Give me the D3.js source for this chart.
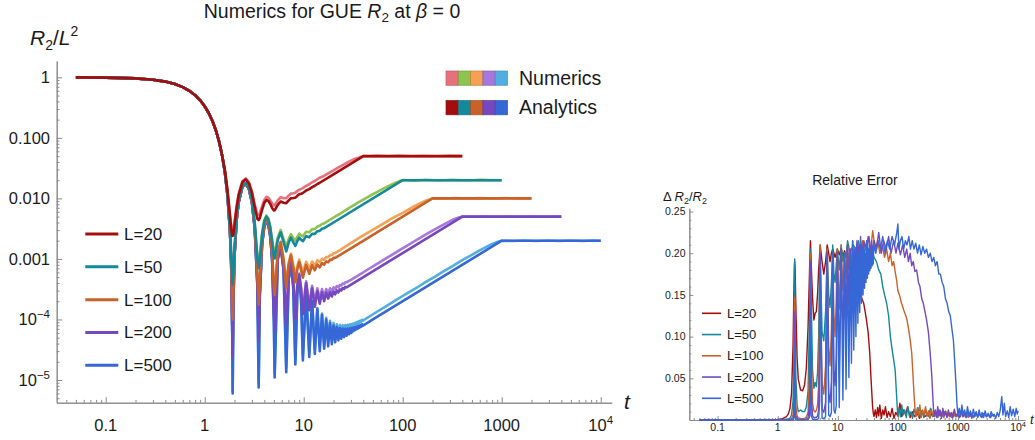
<!DOCTYPE html>
<html><head><meta charset="utf-8">
<script src="https://cdn.jsdelivr.net/npm/d3@7"></script>
<style>
body{margin:0;background:#fff}
text{font-family:"Liberation Sans",Arial,Helvetica,sans-serif;fill:#1a1a1a}
</style></head>
<body><svg id="c" width="1035" height="440"></svg>
<script>
// ---------------- DATA ----------------
const seriesNames = ["L=20","L=50","L=100","L=200","L=500"];
const analyticColors = ["#a50d0d","#13899b","#c9622a","#7548bf","#3567d6"];
const numericColors  = ["#e8707b","#8ec350","#f5a052","#a877dd","#52aee2"];
const legendKinds = ["Numerics","Analytics"];

const xTicksMain = [0.1,1,10,100,1000,10000];
const xTickLabelsMain = ["0.1","1","10","100","1000","10^4"];
const yTicksMain = [1,0.1,0.01,0.001,1e-4,1e-5];
const yTickLabelsMain = ["1","0.100","0.010","0.001","10^-4","10^-5"];
const xTicksErr = [0.1,1,10,100,1000,10000];
const xTickLabelsErr = ["0.1","1","10","100","1000","10^4"];
const yTicksErr = [0.05,0.10,0.15,0.20,0.25];
const yTickLabelsErr = ["0.05","0.10","0.15","0.20","0.25"];

// shared early part (all L coincide) of R2/L^2
const headT = [0.05,0.1,0.2,0.3,0.4,0.5,0.6,0.7,0.8,0.9,1.0,1.1,1.2,1.3,1.4,1.5];
const headV = [0.9975,0.990,0.9607,0.9133,0.8503,0.7746,0.6897,0.5994,0.5075,0.4175,0.3326,0.2555,0.1879,0.1312,0.0856,0.0511];

// t grid of the oscillating part
const oscT = [1.6,1.7,1.8,1.85,1.9,1.916,1.95,2.0,2.1,2.2,2.4,2.6,2.8,3.0,3.2,3.4,3.508,3.6,3.8,4.0,4.2,4.4,4.6,4.8,5.0,5.087,
5.47,5.85,6.26,6.662,7.05,7.43,7.83,8.235,8.62,9.01,9.41,9.808,
10.58,11.38,12.16,12.952,13.73,14.523,15.30,16.095,16.87,17.666,18.44,19.237,20.02,20.809,21.59,22.38,23.17,23.951,24.74,25.522,26.31,27.093,27.88,28.664,29.45,30.235,31.02,31.806,32.59,33.377,34.16,34.948,35.73,36.52,37.30,38.09,38.88,39.66];

// Analytics (values on oscT, then tail points)
const ana20 = [0.02867,0.01324,0.005065,0.00316,0.00242,0.0024,0.00263,0.00359,0.00698,0.01125,0.01847,0.02067,0.01768,0.01226,0.00722,0.00462,0.00439,0.00473,0.0065,0.00844,0.00941,0.0091,0.00807,0.00694,0.00633,0.00636,
0.00781,0.0089,0.00848,0.00833,0.00926,0.01007,0.01012,0.01029,0.01103,0.0117,0.01195,0.01226,
0.01349,0.01423,0.01538,0.01619,0.01728,0.01815];
const anaTail20 = [[20,0.025],[40,0.05],[400,0.05]];
const ana50 = [0.02699,0.01145,0.003175,0.001216,4.25e-4,3.8e-4,5.85e-4,0.001489,0.00478,0.00894,0.01595,0.01794,0.01474,0.00911,0.00386,0.001048,7.0e-4,9.47e-4,0.002515,0.00424,0.005,0.00448,0.00324,0.0019,0.001076,0.001017,
0.00206,0.00276,0.0019,0.001332,0.00186,0.00226,0.0019,0.001647,0.00197,0.00224,0.00207,0.00196,
0.00238,0.002276,0.00261,0.00259,0.00287,0.002905,0.00315,0.00322];
const anaTail50 = [[20,0.004],[100,0.02],[1000,0.02]];
const ana100 = [0.02675,0.0112,0.002905,9.39e-4,1.4e-4,1.0e-4,2.92e-4,0.00119,0.00446,0.00861,0.01559,0.01755,0.01432,0.00866,0.00338,5.38e-4,1.75e-4,4.07e-4,0.001945,0.00364,0.00437,0.00382,0.00255,0.00118,3.26e-4,2.54e-4,
0.00124,0.00188,9.6e-4,3.33e-4,8.0e-4,0.00115,7.2e-4,4.12e-4,6.8e-4,8.87e-4,6.6e-4,4.9e-4,
7.97e-4,5.69e-4,7.84e-4,6.48e-4,8.09e-4,7.26e-4,8.54e-4,8.05e-4,9.1e-4,8.83e-4,9.73e-4,9.62e-4,0.001041,0.00104];
const anaTail100 = [[30,0.0015],[200,0.01],[2000,0.01]];
const ana200 = [0.02669,0.01113,0.00284,8.69e-4,6.9e-5,2.4e-5,2.19e-4,0.001114,0.00438,0.00853,0.0155,0.01746,0.01422,0.00854,0.00326,4.1e-4,4.4e-5,2.72e-4,0.0018,0.00349,0.00421,0.00366,0.00237,0.001,1.38e-4,6.4e-5,
0.00104,0.00166,7.3e-4,8.3e-5,5.4e-4,8.7e-4,4.3e-4,1.03e-4,3.58e-4,5.49e-4,3.08e-4,1.23e-4,
4.0e-4,1.42e-4,3.28e-4,1.62e-4,2.94e-4,1.82e-4,2.8e-4,2.01e-4,2.77e-4,2.21e-4,2.81e-4,2.4e-4,2.9e-4,2.6e-4,3.02e-4,2.8e-4,3.15e-4,2.99e-4,3.3e-4,3.19e-4,3.46e-4,3.39e-4];
const anaTail200 = [[40,5e-4],[400,0.005],[4000,0.005]];
const ana500 = [0.02667,0.01111,0.002819,8.5e-4,4.9e-5,6e-6,1.99e-4,0.001093,0.00436,0.0085,0.01548,0.01743,0.01419,0.00851,0.00323,3.75e-4,7.5e-6,2.34e-4,0.001763,0.00345,0.004165,0.00361,0.002326,9.54e-4,8.57e-5,1.1e-5,
9.8e-4,0.0016,6.63e-4,1.35e-5,4.64e-4,7.93e-4,3.46e-4,1.8e-5,2.67e-4,4.54e-4,2.09e-4,2.1e-5,
2.89e-4,2.4e-5,2.0e-4,2.7e-5,1.49e-4,3.0e-5,1.19e-4,3.3e-5,9.98e-5,3.6e-5,8.76e-5,3.9e-5,7.97e-5,4.2e-5,7.48e-5,4.5e-5,7.19e-5,4.8e-5,7.05e-5,5.1e-5,7.01e-5,5.4e-5,7.05e-5,5.7e-5,7.14e-5,6.0e-5,7.27e-5,6.4e-5,7.44e-5,6.7e-5,7.63e-5,7.0e-5,7.85e-5,7.3e-5,8.07e-5,7.6e-5,8.32e-5,7.9e-5];
const anaTail500 = [[50,1e-4],[1000,0.002],[10000,0.002]];

// Numerics (values on oscT, then tail points)
const num20 = [0.02907,0.01366,0.005516,0.003621,0.002868,0.002856,0.003103,0.004089,0.007504,0.0118,0.01913,0.02139,0.01842,0.01303,0.008021,0.00547,0.005334,0.005629,0.007449,0.009453,0.01061,0.01028,0.00928,0.008189,0.007596,0.007696,
0.009294,0.01046,0.01009,0.01008,0.01111,0.01198,0.01214,0.0124,0.01324,0.01398,0.01434,0.01477,
0.01616,0.01715,0.01846,0.01935,0.02074,0.02196];
const numTail20 = [[16,0.0235],[18,0.0263],[20,0.0291],[22,0.0319],[25,0.0358],[28,0.0398],[30,0.042],[32,0.0442],[34,0.0459],[36,0.0471],[38,0.0486],[40,0.0502],[45,0.0496],[55,0.0505],[70,0.0497],[90,0.0504],[120,0.0498],[160,0.0503],[220,0.0497],[300,0.0504],[400,0.05]];
const num50 = [0.02705,0.01152,0.003248,0.001289,5.01e-4,4.65e-4,6.63e-4,0.001569,0.004866,0.00903,0.01614,0.01812,0.01489,0.009256,0.003995,0.001184,8.44e-4,0.001091,0.002666,0.004401,0.005225,0.004659,0.003425,0.00209,0.001276,0.00122,
0.002278,0.003022,0.002147,0.001605,0.002139,0.002565,0.002214,0.001993,0.002315,0.00261,0.002453,0.002362,
0.002808,0.002754,0.003106,0.003108,0.00343,0.00353,0.00378,0.003864];
const numTail50 = [[18,0.004356],[20,0.00482],[24,0.00576],[30,0.007272],[36,0.008698],[40,0.00956],[48,0.01133],[56,0.01299],[65,0.01482],[75,0.0165],[85,0.01822],[95,0.01957],[100,0.0201],[130,0.0197],[170,0.0203],[230,0.0198],[320,0.0202],[450,0.0198],[620,0.0202],[850,0.0199],[1000,0.02]];
const num100 = [0.02677,0.01122,0.002923,9.58e-4,1.59e-4,1.145e-4,3.12e-4,0.00121,0.004482,0.008632,0.01561,0.01758,0.01435,0.00869,0.003412,5.72e-4,2.1e-4,4.43e-4,0.001984,0.00368,0.004412,0.003864,0.002596,0.001228,3.76e-4,3.07e-4,
0.001295,0.001938,0.001022,4.01e-4,8.7e-4,0.001225,7.98e-4,4.94e-4,7.66e-4,9.76e-4,7.54e-4,5.9e-4,
9.03e-4,6.88e-4,9.06e-4,7.78e-4,9.47e-4,8.78e-4,0.001008,9.7e-4,0.001078,0.001073,0.001158,0.001159,0.001242,0.001258];
const numTail100 = [[23,0.00138],[26,0.00158],[32,0.001952],[38,0.002328],[46,0.002795],[55,0.003328],[65,0.003916],[75,0.0045],[85,0.005058],[90,0.005301],[100,0.005775],[115,0.006555],[140,0.007854],[160,0.008768],[170,0.00918],[180,0.009432],[192,0.009734],[200,0.01],[260,0.0099],[340,0.0101],[450,0.0099],[600,0.0101],[800,0.0099],[1100,0.0101],[1500,0.0099],[2000,0.01]];
const num200 = [0.02669,0.01113,0.002845,8.73e-4,7.38e-5,2.71e-5,2.24e-4,0.001119,0.00438,0.00853,0.0155,0.01746,0.01422,0.00855,0.003268,4.19e-4,5.24e-5,2.81e-4,0.001809,0.0035,0.00422,0.00367,0.00238,0.001012,1.5e-4,7.68e-5,
0.001054,0.001675,7.45e-4,9.96e-5,5.58e-4,8.88e-4,4.5e-4,1.24e-4,3.79e-4,5.72e-4,3.32e-4,1.48e-4,
4.26e-4,1.71e-4,3.59e-4,1.94e-4,3.28e-4,2.2e-4,3.18e-4,2.42e-4,3.19e-4,2.67e-4,3.27e-4,2.89e-4,3.4e-4,3.16e-4,3.56e-4,3.39e-4,3.73e-4,3.65e-4,3.92e-4,3.86e-4,4.12e-4,4.12e-4];
const numTail200 = [[30,4.52e-4],[36,5.4e-4],[44,6.63e-4],[53,7.95e-4],[64,9.64e-4],[77,0.001155],[93,0.001395],[110,0.001647],[130,0.001942],[150,0.002231],[170,0.002518],[192,0.002827],[220,0.003204],[250,0.003578],[282,0.003983],[322,0.004448],[345,0.004658],[365,0.004813],[380,0.004893],[392,0.004959],[400,0.005],[500,0.00497],[650,0.00503],[850,0.00498],[1100,0.00503],[1500,0.00497],[2000,0.00502],[2700,0.00498],[3400,0.00503],[4000,0.005]];
const num500 = [0.02667,0.01111,0.002819,8.5e-4,4.98e-5,6.5e-6,2.0e-4,0.001094,0.00436,0.0085,0.01548,0.01743,0.01419,0.00851,0.00323,3.76e-4,8.8e-6,2.35e-4,0.001765,0.00345,0.004167,0.003613,0.002328,9.56e-4,8.77e-5,1.31e-5,
9.82e-4,0.001602,6.66e-4,1.62e-5,4.67e-4,7.96e-4,3.49e-4,2.16e-5,2.7e-4,4.58e-4,2.13e-4,2.52e-5,
2.93e-4,2.89e-5,2.05e-4,3.24e-5,1.55e-4,3.63e-5,1.25e-4,3.96e-5,1.066e-4,4.37e-5,9.5e-5,4.7e-5,8.77e-5,5.08e-5,8.35e-5,5.4e-5,8.12e-5,5.83e-5,8.04e-5,6.15e-5,8.06e-5,6.53e-5,8.16e-5,6.84e-5,8.32e-5,7.29e-5,8.51e-5,7.71e-5,8.74e-5,8.11e-5,9.0e-5,8.4e-5,9.28e-5,8.87e-5,9.56e-5,9.16e-5,9.88e-5,9.56e-5];
const numTail500 = [[47,1.142e-4],[56,1.366e-4],[67,1.628e-4],[80,1.952e-4],[96,2.352e-4],[117,2.855e-4],[142,3.436e-4],[173,4.204e-4],[212,5.088e-4],[260,6.282e-4],[322,7.696e-4],[395,9.44e-4],[480,0.001128],[580,0.001346],[700,0.001582],[790,0.001754],[890,0.001896],[960,0.001958],[1000,0.002],[1300,0.00198],[1700,0.00202],[2200,0.00198],[2900,0.00202],[3800,0.00198],[5000,0.00202],[6500,0.00198],[8500,0.00202],[10000,0.002]];

// Relative error  [t, ΔR2/R2]
const err20 = [[0.05,0],[0.3,0.0001],[0.5,0.0002],[0.8,0.0005],[1,0.0008],[1.2,0.0016],[1.4,0.004],[1.5,0.007],[1.6,0.014],[1.7,0.032],[1.8,0.089],[1.85,0.146],[1.9,0.185],[1.916,0.19],[1.95,0.18],[2.0,0.139],[2.1,0.075],[2.2,0.049],[2.4,0.036],[2.6,0.035],[2.8,0.042],[3.0,0.063],[3.2,0.111],[3.4,0.184],[3.508,0.215],[3.6,0.19],[3.8,0.146],[4.0,0.12],[4.2,0.128],[4.4,0.13],[4.6,0.15],[4.8,0.18],[5.0,0.2],[5.087,0.21],[5.47,0.19],[5.85,0.175],[6.26,0.19],[6.662,0.21],[7.05,0.2],[7.43,0.19],[7.83,0.2],[8.235,0.205],[8.62,0.2],[9.01,0.195],[9.41,0.2],[9.808,0.205],[10.58,0.198],[11.38,0.206],[12.16,0.196],[12.95,0.203],[13.73,0.195],[14.52,0.2],[15.3,0.188],[16.1,0.18],[17,0.182],[18,0.172],[19,0.174],[20,0.165],[22,0.16],[24,0.15],[25,0.146],[27,0.14],[28.5,0.13],[30,0.12],[32,0.105],[34,0.08],[36,0.045],[38,0.015],[39,0.008],[40,0.004],[42,0.012],[44,0.003],[46,0.015],[48,0.005],[50,0.018],[53,0.002],[56,0.012],[59,0.006],[62,0.016],[66,0.003],[70,0.01],[75,0.004],[80,0.014],[86,0.002],[92,0.009],[100,0.005],[108,0.02],[116,0.004],[125,0.012],[135,0.006],[145,0.016],[160,0.003],[175,0.01],[190,0.004],[210,0.008],[230,0.002],[250,0.01],[280,0.004],[310,0.007],[340,0.003],[370,0.008],[400,0.004]];
const err50 = [[0.05,0],[1,0.0001],[1.5,0.0012],[1.6,0.0024],[1.7,0.006],[1.8,0.023],[1.85,0.06],[1.9,0.179],[1.916,0.193],[1.95,0.133],[2.0,0.054],[2.1,0.018],[2.2,0.01],[2.4,0.012],[2.6,0.01],[2.8,0.01],[3.0,0.016],[3.2,0.035],[3.4,0.13],[3.508,0.205],[3.6,0.152],[3.8,0.06],[4.0,0.038],[4.2,0.045],[4.4,0.04],[4.6,0.057],[4.8,0.1],[5.0,0.186],[5.087,0.2],[5.47,0.106],[5.85,0.095],[6.26,0.13],[6.662,0.205],[7.05,0.15],[7.43,0.135],[7.83,0.165],[8.235,0.21],[8.62,0.175],[9.01,0.165],[9.41,0.185],[9.808,0.205],[10.58,0.18],[11.38,0.21],[12.16,0.19],[12.95,0.2],[13.73,0.195],[14.52,0.215],[16,0.2],[18,0.21],[20,0.205],[22,0.215],[24,0.2],[26,0.21],[28,0.2],[30,0.212],[33,0.2],[36,0.208],[40,0.195],[44,0.19],[48,0.18],[52,0.175],[56,0.16],[60,0.15],[65,0.14],[70,0.125],[75,0.1],[80,0.085],[85,0.072],[90,0.06],[95,0.03],[98,0.012],[100,0.005],[105,0.014],[110,0.004],[116,0.018],[122,0.006],[130,0.012],[138,0.003],[146,0.016],[155,0.005],[165,0.01],[175,0.002],[185,0.013],[200,0.005],[215,0.015],[230,0.004],[250,0.011],[270,0.003],[290,0.012],[320,0.005],[350,0.014],[380,0.004],[420,0.009],[460,0.003],[500,0.012],[550,0.005],[600,0.01],[660,0.004],[720,0.008],[800,0.003],[880,0.007],[950,0.004],[1000,0.006]];
const err100 = [[0.05,0],[1.5,0.0003],[1.6,0.0006],[1.7,0.0015],[1.8,0.0062],[1.85,0.02],[1.9,0.136],[1.916,0.147],[1.95,0.067],[2.0,0.017],[2.1,0.005],[2.2,0.0026],[2.4,0.0015],[2.6,0.0015],[2.8,0.002],[3.0,0.0035],[3.2,0.0095],[3.4,0.063],[3.508,0.2],[3.6,0.088],[3.8,0.02],[4.0,0.011],[4.2,0.0096],[4.4,0.0115],[4.6,0.018],[4.8,0.041],[5.0,0.153],[5.087,0.21],[5.47,0.044],[5.85,0.031],[6.26,0.065],[6.662,0.205],[7.05,0.088],[7.43,0.065],[7.83,0.109],[8.235,0.2],[8.62,0.127],[9.01,0.1],[9.41,0.143],[9.808,0.205],[10.58,0.133],[11.38,0.21],[12.16,0.155],[12.95,0.2],[13.73,0.17],[14.52,0.21],[15.3,0.18],[16.1,0.205],[16.87,0.185],[17.67,0.215],[18.44,0.19],[19.24,0.205],[20.02,0.193],[20.81,0.21],[23,0.2],[26,0.215],[29,0.205],[32,0.22],[35,0.2],[38,0.227],[42,0.205],[46,0.215],[50,0.2],[55,0.21],[60,0.195],[65,0.205],[70,0.19],[75,0.2],[80,0.185],[85,0.19],[90,0.178],[95,0.168],[100,0.155],[108,0.148],[115,0.14],[125,0.132],[140,0.122],[150,0.11],[160,0.096],[170,0.08],[180,0.048],[186,0.03],[192,0.014],[200,0.004],[210,0.014],[220,0.005],[232,0.018],[245,0.003],[258,0.012],[272,0.006],[288,0.016],[305,0.004],[322,0.011],[340,0.002],[360,0.013],[385,0.005],[410,0.01],[440,0.003],[470,0.012],[500,0.005],[540,0.009],[580,0.003],[620,0.011],[670,0.004],[720,0.008],[780,0.003],[840,0.01],[900,0.004],[980,0.007],[1060,0.003],[1150,0.009],[1250,0.004],[1350,0.008],[1480,0.003],[1600,0.007],[1750,0.004],[1900,0.006],[2000,0.004]];
const err200 = [[0.05,0],[1.6,0.0002],[1.8,0.0016],[1.85,0.005],[1.9,0.069],[1.916,0.13],[1.95,0.022],[2.0,0.0045],[2.2,0.0007],[2.6,0.0004],[3.0,0.0009],[3.2,0.0025],[3.4,0.021],[3.508,0.19],[3.6,0.033],[3.8,0.005],[4.0,0.003],[4.4,0.003],[4.6,0.005],[4.8,0.012],[5.0,0.09],[5.087,0.2],[5.47,0.013],[5.85,0.009],[6.26,0.021],[6.662,0.2],[7.05,0.033],[7.43,0.021],[7.83,0.046],[8.235,0.2],[8.62,0.06],[9.01,0.041],[9.41,0.077],[9.808,0.2],[10.58,0.066],[11.38,0.205],[12.16,0.093],[12.95,0.2],[13.73,0.117],[14.52,0.21],[15.3,0.136],[16.1,0.205],[16.87,0.152],[17.67,0.21],[18.44,0.164],[19.24,0.205],[20.02,0.172],[20.81,0.215],[21.59,0.179],[22.38,0.21],[23.17,0.184],[23.95,0.22],[24.74,0.187],[25.52,0.21],[26.31,0.19],[27.09,0.215],[30,0.205],[33,0.22],[36,0.2],[40,0.215],[44,0.205],[48,0.225],[53,0.2],[58,0.215],[64,0.205],[70,0.22],[77,0.2],[85,0.215],[93,0.2],[100,0.212],[110,0.198],[120,0.21],[130,0.195],[140,0.205],[150,0.19],[160,0.2],[170,0.185],[180,0.19],[192,0.178],[205,0.18],[220,0.165],[233,0.16],[250,0.145],[265,0.14],[282,0.13],[300,0.12],[322,0.105],[345,0.08],[365,0.055],[380,0.03],[392,0.012],[405,0.004],[420,0.012],[440,0.004],[460,0.016],[480,0.005],[505,0.011],[530,0.002],[560,0.014],[590,0.005],[620,0.01],[655,0.003],[690,0.012],[730,0.004],[770,0.009],[820,0.003],[870,0.013],[920,0.005],[980,0.008],[1050,0.003],[1120,0.011],[1200,0.004],[1280,0.009],[1370,0.003],[1470,0.01],[1580,0.004],[1700,0.008],[1830,0.003],[1970,0.009],[2120,0.004],[2300,0.007],[2500,0.003],[2700,0.008],[2950,0.004],[3200,0.006],[3500,0.003],[3750,0.007],[4000,0.004]];
const err500 = [[0.05,0],[1.8,0.0002],[1.85,0.0009],[1.9,0.016],[1.916,0.09],[1.95,0.004],[2.0,0.0007],[2.2,0.0001],[3.2,0.0004],[3.4,0.0036],[3.508,0.17],[3.6,0.006],[3.8,0.0009],[4.2,0.0005],[4.6,0.0009],[4.8,0.0021],[5.0,0.023],[5.087,0.19],[5.47,0.0024],[5.85,0.0015],[6.26,0.004],[6.662,0.2],[7.05,0.006],[7.43,0.004],[7.83,0.009],[8.235,0.2],[8.62,0.012],[9.01,0.008],[9.41,0.017],[9.808,0.2],[10.58,0.015],[11.38,0.205],[12.16,0.024],[12.95,0.2],[13.73,0.037],[14.52,0.21],[15.3,0.051],[16.1,0.2],[16.87,0.068],[17.67,0.215],[18.44,0.084],[19.24,0.205],[20.02,0.1],[20.81,0.21],[21.59,0.116],[22.38,0.2],[23.17,0.129],[23.95,0.215],[24.74,0.14],[25.52,0.205],[26.31,0.15],[27.09,0.21],[27.88,0.158],[28.66,0.2],[29.45,0.165],[30.24,0.215],[31.02,0.17],[31.81,0.205],[32.59,0.175],[33.38,0.21],[34.16,0.179],[34.95,0.2],[35.73,0.182],[36.52,0.215],[37.3,0.185],[38.09,0.205],[38.88,0.187],[39.66,0.21],[43,0.2],[47,0.215],[51,0.205],[56,0.22],[61,0.2],[67,0.215],[73,0.205],[80,0.22],[88,0.21],[96,0.225],[100,0.235],[104,0.205],[110,0.215],[117,0.22],[125,0.205],[133,0.215],[142,0.21],[152,0.22],[162,0.205],[173,0.215],[185,0.205],[198,0.212],[212,0.2],[227,0.21],[243,0.198],[260,0.208],[280,0.2],[300,0.205],[322,0.195],[345,0.2],[370,0.19],[395,0.195],[420,0.185],[450,0.19],[480,0.175],[510,0.175],[545,0.165],[580,0.16],[620,0.145],[660,0.14],[700,0.13],[745,0.125],[790,0.11],[840,0.095],[890,0.065],[930,0.04],[960,0.02],[1000,0.005],[1050,0.014],[1100,0.004],[1160,0.018],[1220,0.006],[1290,0.012],[1360,0.003],[1440,0.016],[1520,0.005],[1610,0.011],[1700,0.002],[1800,0.013],[1900,0.005],[2010,0.01],[2130,0.003],[2250,0.012],[2380,0.004],[2520,0.009],[2670,0.003],[2830,0.011],[3000,0.004],[3180,0.008],[3370,0.003],[3570,0.01],[3780,0.005],[4000,0.007],[4240,0.002],[4500,0.009],[4770,0.004],[5050,0.012],[5350,0.028],[5600,0.006],[5900,0.02],[6200,0.004],[6600,0.011],[7000,0.003],[7400,0.016],[7800,0.005],[8300,0.013],[8800,0.004],[9300,0.014],[9700,0.007],[10000,0.011]];

// ---------------- BUILD ----------------
const anaVals = [ana20,ana50,ana100,ana200,ana500];
const anaTails = [anaTail20,anaTail50,anaTail100,anaTail200,anaTail500];
const numVals = [num20,num50,num100,num200,num500];
const numTails = [numTail20,numTail50,numTail100,numTail200,numTail500];
const errSeries = [err20,err50,err100,err200,err500];

function buildCurve(vals, tail){
  const head = headT.map((t,i)=>[t, headV[i]]);
  const osc = vals.map((v,i)=>[oscT[i], v]);
  return head.concat(osc, tail);
}

const svg = d3.select("#c");
const AX = "#8a8a8a";

function logMinor(dom){
  const out=[];
  for(let e=Math.floor(Math.log10(dom[0]))-1;e<=Math.ceil(Math.log10(dom[1]));e++)
    for(let k=2;k<=9;k++){const v=k*Math.pow(10,e); if(v>=dom[0]&&v<=dom[1]) out.push(v);}
  return out;
}
function styleAxis(g){
  g.selectAll("path").attr("stroke",AX).attr("stroke-width",1);
  g.selectAll("line").attr("stroke",AX).attr("stroke-width",1);
  g.selectAll("text").remove();
}
function powLabel(sel, lab, baseSize, supSize, supDy){
  if(lab.indexOf("^")<0){ sel.text(lab); return; }
  const [b,p] = lab.split("^");
  sel.append("tspan").text(b);
  sel.append("tspan").attr("dy",supDy).attr("font-size",supSize).text(p.replace("-","\u2212"));
}

// ---- MAIN CHART ----
const mx = d3.scaleLog().domain([Math.pow(10,-1.495), Math.pow(10,4.111)]).range([56.7, 611.7]);
const my = d3.scaleLog().domain([Math.pow(10,-5.375), Math.pow(10,0.27)]).range([402.7, 61]);

const gmx = svg.append("g").attr("transform","translate(0,402.7)");
gmx.append("g").call(d3.axisBottom(mx).tickValues(logMinor(mx.domain())).tickSize(-2.8).tickSizeOuter(0).tickFormat(()=>"")).call(styleAxis);
gmx.append("g").call(d3.axisBottom(mx).tickValues(xTicksMain).tickSize(-5.5).tickSizeOuter(0).tickFormat(()=>"")).call(styleAxis);
const gmy = svg.append("g").attr("transform","translate(56.7,0)");
gmy.append("g").call(d3.axisLeft(my).tickValues(logMinor(my.domain())).tickSize(-2.8).tickSizeOuter(0).tickFormat(()=>"")).call(styleAxis);
gmy.append("g").call(d3.axisLeft(my).tickValues(yTicksMain).tickSize(-5.5).tickSizeOuter(0).tickFormat(()=>"")).call(styleAxis);

xTicksMain.forEach((v,i)=>{
  const t = svg.append("text").attr("x",mx(v)).attr("y",431).attr("text-anchor","middle").attr("font-size",16.5);
  powLabel(t, xTickLabelsMain[i], 16.5, 11.5, -7);
});
yTicksMain.forEach((v,i)=>{
  const t = svg.append("text").attr("x",50).attr("y",my(v)+6).attr("text-anchor","end").attr("font-size",16.5);
  powLabel(t, yTickLabelsMain[i], 16.5, 11.5, -7);
});

// axis labels & title
{
  const t = svg.append("text").attr("x",30).attr("y",45).attr("font-size",21);
  t.append("tspan").attr("font-style","italic").text("R");
  t.append("tspan").attr("font-size",14).attr("dy",4.5).text("2");
  t.append("tspan").attr("dy",-4.5).text("/");
  t.append("tspan").attr("font-style","italic").text("L");
  t.append("tspan").attr("font-size",14).attr("dy",-9).text("2");
  svg.append("text").attr("x",627).attr("y",409).attr("text-anchor","middle").attr("font-size",21).attr("font-style","italic").text("t");
  const ti = svg.append("text").attr("x",332).attr("y",17.5).attr("text-anchor","middle").attr("font-size",19.5);
  ti.append("tspan").text("Numerics for GUE ");
  ti.append("tspan").attr("font-style","italic").text("R");
  ti.append("tspan").attr("font-size",13.5).attr("dy",4.5).text("2");
  ti.append("tspan").attr("dy",-4.5).text(" at ");
  ti.append("tspan").attr("font-style","italic").text("\u03B2");
  ti.append("tspan").text(" = 0");
}

const lineMain = d3.line().x(d=>mx(d[0])).y(d=>my(d[1]));
svg.append("clipPath").attr("id","cm").append("rect").attr("x",56.7).attr("y",55).attr("width",560).attr("height",347.7);
const gm = svg.append("g").attr("clip-path","url(#cm)");
// numerics first (below)
numVals.forEach((vals,i)=>{
  gm.append("path").datum(buildCurve(vals, numTails[i])).attr("d",lineMain)
    .attr("fill","none").attr("stroke",numericColors[i]).attr("stroke-width",2.6).attr("stroke-linejoin","round");
});
// analytics on top; L=500 first so L=20 ends up on top
for(let i=anaVals.length-1;i>=0;i--){
  gm.append("path").datum(buildCurve(anaVals[i], anaTails[i])).attr("d",lineMain)
    .attr("fill","none").attr("stroke",analyticColors[i]).attr("stroke-width",2.6).attr("stroke-linejoin","round");
}

// main legend (L=..)
const legMainY = d3.scalePoint().domain(seriesNames).range([234, 365.3]);
seriesNames.forEach((n,i)=>{
  const y = legMainY(n);
  svg.append("line").attr("x1",85.3).attr("x2",118.3).attr("y1",y).attr("y2",y).attr("stroke",analyticColors[i]).attr("stroke-width",3);
  svg.append("text").attr("x",124).attr("y",y+6).attr("font-size",17).text(n);
});
// Numerics / Analytics swatch legend
const swX = d3.scaleBand().domain(seriesNames).range([446, 507.5]).padding(0);
[[numericColors,71,85],[analyticColors,100.5,114]].forEach(([cols,y0,ty],k)=>{
  seriesNames.forEach((n,i)=>{
    svg.append("rect").attr("x",swX(n)).attr("y",y0).attr("width",swX.bandwidth()).attr("height",14.3)
      .attr("fill",cols[i]).attr("stroke",d3.color(cols[i]).darker(0.7)).attr("stroke-width",0.8).attr("stroke-opacity",0.8);
  });
  svg.append("text").attr("x",519).attr("y",ty).attr("font-size",19.5).text(legendKinds[k]);
});

// ---- ERROR CHART ----
const ex = d3.scaleLog().domain([Math.pow(10,-1.471), Math.pow(10,4.115)]).range([689.3, 1025]);
const ey = d3.scaleLinear().domain([0, 0.254]).range([420, 208.2]);

const gex = svg.append("g").attr("transform","translate(0,420)");
gex.append("g").call(d3.axisBottom(ex).tickValues(logMinor(ex.domain())).tickSize(-2).tickSizeOuter(0).tickFormat(()=>"")).call(styleAxis);
gex.append("g").call(d3.axisBottom(ex).tickValues(xTicksErr).tickSize(-4).tickSizeOuter(0).tickFormat(()=>"")).call(styleAxis);
const gey = svg.append("g").attr("transform","translate(689.3,0)");
gey.append("g").call(d3.axisLeft(ey).tickValues(d3.range(0.01,0.2541,0.01).filter(v=>Math.abs(v*20-Math.round(v*20))>1e-6)).tickSize(-2).tickSizeOuter(0).tickFormat(()=>"")).call(styleAxis);
gey.append("g").call(d3.axisLeft(ey).tickValues(yTicksErr).tickSize(-4).tickSizeOuter(0).tickFormat(()=>"")).call(styleAxis);

xTicksErr.forEach((v,i)=>{
  const t = svg.append("text").attr("x",ex(v)).attr("y",431).attr("text-anchor","middle").attr("font-size",10.5);
  powLabel(t, xTickLabelsErr[i], 10.5, 7.5, -4.5);
});
yTicksErr.forEach((v,i)=>{
  svg.append("text").attr("x",685.5).attr("y",ey(v)+3.7).attr("text-anchor","end").attr("font-size",10.5).text(yTickLabelsErr[i]);
});
svg.append("text").attr("x",855).attr("y",185).attr("text-anchor","middle").attr("font-size",14).text("Relative Error");
{
  const t = svg.append("text").attr("x",663).attr("y",201).attr("font-size",13);
  t.append("tspan").text("\u0394 ");
  t.append("tspan").attr("font-style","italic").text("R");
  t.append("tspan").attr("font-size",9).attr("dy",3).text("2");
  t.append("tspan").attr("dy",-3).text("/");
  t.append("tspan").attr("font-style","italic").text("R");
  t.append("tspan").attr("font-size",9).attr("dy",3).text("2");
  svg.append("text").attr("x",1030).attr("y",424).attr("font-size",13).attr("font-style","italic").text("t");
}
const lineErr = d3.line().x(d=>ex(d[0])).y(d=>ey(d[1]));
errSeries.forEach((s,i)=>{
  svg.append("path").datum(s).attr("d",lineErr).attr("fill","none")
    .attr("stroke",analyticColors[i]).attr("stroke-width",1.4).attr("stroke-linejoin","round");
});
const legErrY = d3.scalePoint().domain(seriesNames).range([313.3, 398.3]);
seriesNames.forEach((n,i)=>{
  const y = legErrY(n);
  svg.append("line").attr("x1",702).attr("x2",721).attr("y1",y).attr("y2",y).attr("stroke",analyticColors[i]).attr("stroke-width",1.6);
  svg.append("text").attr("x",727).attr("y",y+4.6).attr("font-size",13).text(n);
});
</script></body></html>
